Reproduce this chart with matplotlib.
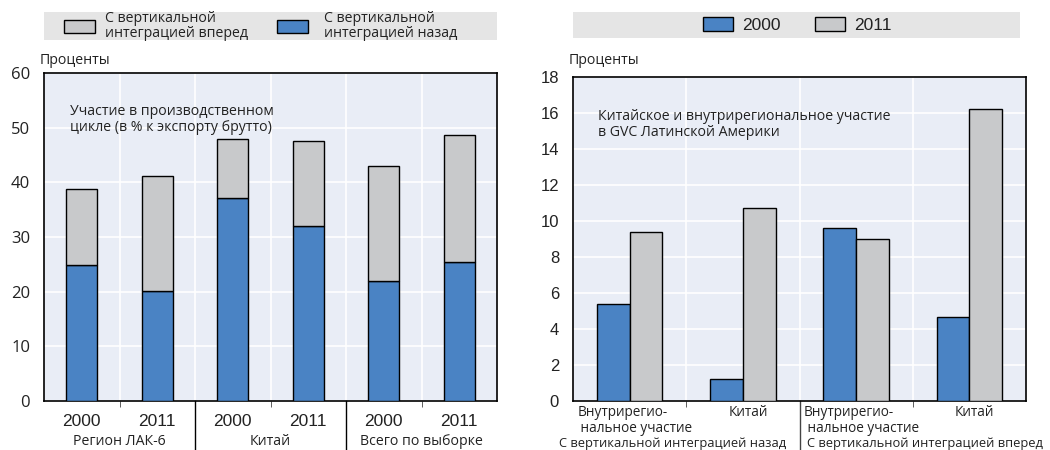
import matplotlib
matplotlib.use("Agg")
import matplotlib.pyplot as plt
import numpy as np
from matplotlib.patches import Patch
from matplotlib.legend import Legend

# ---------------- data ----------------
left_years = ["2000", "2011", "2000", "2011", "2000", "2011"]
left_groups = ["Регион ЛАК-6", "Китай", "Всего по выборке"]
backward = [24.8, 20.1, 37.2, 32.1, 22.0, 25.4]
total = [38.8, 41.1, 47.9, 47.6, 43.0, 48.7]
forward = [t - b for t, b in zip(total, backward)]

right_cats = ["Внутрирегио-\n нальное участие", "Китай", "Внутрирегио-\n нальное участие", "Китай"]
right_groups = ["С вертикальной интеграцией назад", "С вертикальной интеграцией вперед"]
vals_2000 = [5.4, 1.25, 9.6, 4.65]
vals_2011 = [9.4, 10.7, 9.0, 16.2]

BLUE = "#4A83C4"
GRAY = "#C8C9CB"
BG = "#E9EDF6"
BAND = "#E5E5E5"
TXT = "#222222"
NUMF = "Liberation Sans"
TXTF = "Open Sans"
FS = 10.2
FSR = 9.3

fig = plt.figure(figsize=(10.5, 4.5), dpi=100)
W, H = 1050, 450

def fax(x0, y0, x1, y1):
    return fig.add_axes([x0 / W, 1 - y1 / H, (x1 - x0) / W, (y1 - y0) / H])

def style(ax, ymax, ystep, ncat, yfont, ysize):
    ax.set_facecolor(BG)
    ax.set_xlim(-0.5, ncat - 0.5)
    ax.set_ylim(0, ymax)
    ax.set_yticks(np.arange(0, ymax + 0.1, ystep))
    ax.set_xticks(np.arange(0.5, ncat - 0.5, 1), minor=True)
    ax.grid(axis="y", which="major", color="white", lw=1.2)
    ax.grid(axis="x", which="minor", color="white", lw=1.2)
    ax.set_axisbelow(True)
    for s in ax.spines.values():
        s.set_color("black")
        s.set_linewidth(1.2)
    ax.tick_params(axis="y", length=0, labelsize=ysize, pad=10, labelcolor=TXT)
    ax.tick_params(axis="x", which="major", length=0)
    ax.tick_params(axis="x", which="minor", length=4, color="#444444", direction="out")
    for lab in ax.get_yticklabels():
        lab.set_fontfamily(yfont)

def band(x0, y0, x1, y1):
    b = fax(x0, y0, x1, y1)
    b.set_facecolor(BAND)
    b.set_xlim(x0, x1)
    b.set_xticks([]); b.set_yticks([])
    for s in b.spines.values():
        s.set_visible(False)
    return b

def entry(b, xpx, color, label, prop, hl, hh, pad):
    lg = Legend(b, [Patch(facecolor=color, edgecolor="black", lw=1.0)], [label],
                loc="center left", bbox_to_anchor=(xpx, 0.5),
                bbox_transform=b.get_xaxis_transform(),
                frameon=False, borderaxespad=0, borderpad=0,
                handlelength=hl, handleheight=hh, handletextpad=pad, prop=prop)
    for t in lg.get_texts():
        t.set_linespacing(0.95)
        t.set_color(TXT)
    b.add_artist(lg)

# ---------------- left chart ----------------
axL = fax(44, 73, 497, 401)
style(axL, 60, 10, 6, TXTF, 12)
x = np.arange(6)
axL.bar(x, backward, width=0.41, color=BLUE, edgecolor="black", lw=1.0, zorder=3)
axL.bar(x, forward, width=0.41, bottom=backward, color=GRAY, edgecolor="black", lw=1.0, zorder=3)
axL.set_xticks(x)
axL.set_xticklabels(left_years, fontfamily=NUMF, fontsize=12.5, color=TXT)
axL.tick_params(axis="x", which="major", pad=9)
for i, g in enumerate(left_groups):
    axL.text(2 * i + 0.5, -0.122, g, transform=axL.get_xaxis_transform(),
             ha="center", va="center", fontsize=FS, fontfamily=TXTF, color=TXT)
for xb in [1.5, 3.5]:
    axL.plot([xb, xb], [0, -0.15], transform=axL.get_xaxis_transform(),
             color="black", lw=1.0, clip_on=False)
axL.text(0.058, 0.905, "Участие в производственном\nцикле (в % к экспорту брутто)",
         transform=axL.transAxes, ha="left", va="top", fontsize=FS,
         fontfamily=TXTF, color=TXT, linespacing=1.05)
fig.text(40 / W, 1 - 60 / H, "Проценты", ha="left", va="center",
         fontsize=FS, fontfamily=TXTF, color=TXT)

bL = band(44, 12, 497, 40)
propL = {"family": TXTF, "size": FS}
entry(bL, 64, GRAY, "С вертикальной\nинтеграцией вперед", propL, 2.2, 1.0, 0.7)
entry(bL, 277, BLUE, "С вертикальной\nинтеграцией назад", propL, 2.2, 1.0, 1.1)

# ---------------- right chart ----------------
axR = fax(573, 77, 1026, 401)
style(axR, 18, 2, 4, NUMF, 12)
xr = np.arange(4)
bw = 0.29
axR.bar(xr - bw / 2, vals_2000, width=bw, color=BLUE, edgecolor="black", lw=1.0, zorder=3)
axR.bar(xr + bw / 2, vals_2011, width=bw, color=GRAY, edgecolor="black", lw=1.0, zorder=3)
axR.set_xticks(xr + 0.045)
axR.set_xticklabels(right_cats, fontfamily=TXTF, fontsize=9.8, color=TXT,
                    va="top", linespacing=1.1)
for lab in axR.get_xticklabels():
    lab.set_multialignment("left")
axR.tick_params(axis="x", which="major", pad=3)
axR.text(1.5 - 0.12, -0.13, right_groups[0], transform=axR.get_xaxis_transform(),
         ha="right", va="center", fontsize=FSR, fontfamily=TXTF, color=TXT)
axR.text(1.5 + 0.07, -0.13, right_groups[1], transform=axR.get_xaxis_transform(),
         ha="left", va="center", fontsize=FSR, fontfamily=TXTF, color=TXT)
axR.plot([1.5, 1.5], [0, -0.16], transform=axR.get_xaxis_transform(),
         color="#444444", lw=1.0, clip_on=False)
axR.text(0.055, 0.9, "Китайское и внутрирегиональное участие\nв GVC Латинской Америки",
         transform=axR.transAxes, ha="left", va="top", fontsize=FS,
         fontfamily=TXTF, color=TXT, linespacing=1.05)
fig.text(569 / W, 1 - 60 / H, "Проценты", ha="left", va="center",
         fontsize=FS, fontfamily=TXTF, color=TXT)

bR = band(573, 12, 1020, 38)
propR = {"family": NUMF, "size": 12.5}
entry(bR, 703, BLUE, "2000", propR, 1.75, 0.85, 0.5)
entry(bR, 815, GRAY, "2011", propR, 1.75, 0.85, 0.5)

fig.savefig("out.png", dpi=100)
